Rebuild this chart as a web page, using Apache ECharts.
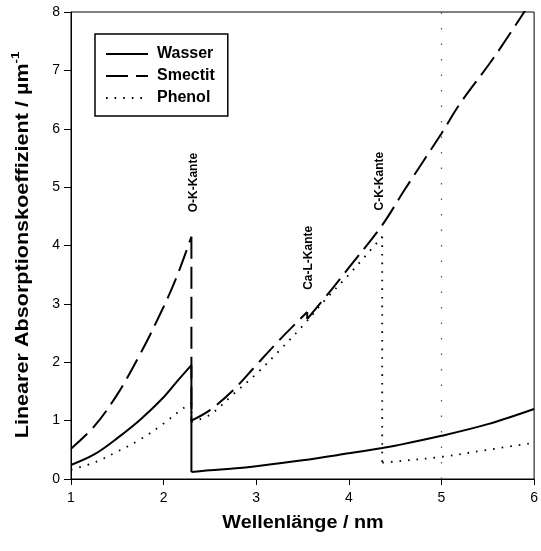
<!DOCTYPE html>
<html>
<head>
<meta charset="utf-8">
<script src="https://cdn.jsdelivr.net/npm/echarts@6/dist/echarts.min.js"></script>
<style>
  html, body { margin: 0; padding: 0; background: #fff; }
  #chart { width: 541px; height: 551px; }
</style>
</head>
<body>
<div id="chart"></div>
<script>
// Wavelength (nm) and linear absorption coefficient (µm^-1); a repeated x marks an absorption edge
const wasserX  = [1.0, 1.25, 1.5, 1.75, 2.0, 2.15, 2.3, 2.3, 2.5, 2.75, 3.0, 3.5, 4.0, 4.36, 4.5, 5.0, 5.5, 6.0];
const wasserY  = [0.24, 0.42, 0.70, 1.02, 1.40, 1.68, 1.95, 0.12, 0.15, 0.18, 0.22, 0.32, 0.44, 0.53, 0.57, 0.74, 0.94, 1.20];

const smectitX = [1.0, 1.25, 1.5, 1.75, 2.0, 2.15, 2.3, 2.3, 2.5, 2.75, 3.0, 3.25, 3.55, 3.55, 3.8, 4.0, 4.36, 4.6, 5.0, 5.2, 5.57, 6.0];
const smectitY = [0.52, 0.90, 1.45, 2.15, 2.95, 3.50, 4.15, 1.00, 1.18, 1.52, 1.95, 2.38, 2.86, 2.74, 3.22, 3.62, 4.35, 4.95, 5.92, 6.43, 7.23, 8.26];

const phenolX  = [1.0, 1.25, 1.5, 1.75, 2.0, 2.2, 2.3, 2.3, 2.5, 2.75, 3.0, 3.25, 3.5, 3.75, 4.0, 4.36, 4.36, 4.5, 5.0, 5.5, 6.0];
const phenolY  = [0.16, 0.28, 0.47, 0.68, 0.95, 1.20, 1.30, 0.98, 1.10, 1.45, 1.80, 2.20, 2.62, 3.08, 3.50, 4.15, 0.28, 0.30, 0.38, 0.50, 0.62];

// Edge annotations: label, x (nm), value where the rotated text begins
const edgeNames = ['O-K-Kante', 'Ca-L-Kante', 'C-K-Kante'];
const edgeX     = [2.325, 3.565, 4.33];
const edgeY     = [4.57, 3.24, 4.60];

const xTicks = [1, 2, 3, 4, 5, 6];
const yTicks = [0, 1, 2, 3, 4, 5, 6, 7, 8];

const FONT = 'Liberation Sans, Arial, sans-serif';

// Split a curve at its edges: smooth pieces between edges, straight vertical drops at them
function buildSeries(name, xs, ys, lineStyle, z, extra) {
  const out = [];
  let piece = [[xs[0], ys[0]]];
  const make = (data, smooth) => ({
    type: 'line', name, symbol: 'none', showSymbol: false, smooth, data,
    lineStyle, itemStyle: { color: '#000' }, z, animation: false
  });
  const flush = () => { if (piece.length > 1) out.push(make(piece, 0.35)); };
  for (let i = 1; i < xs.length; i++) {
    if (xs[i] === xs[i - 1]) {
      flush();
      out.push(make([[xs[i - 1], ys[i - 1]], [xs[i], ys[i]]], false));
      piece = [[xs[i], ys[i]]];
    } else {
      piece.push([xs[i], ys[i]]);
    }
  }
  flush();
  if (extra) Object.assign(out[0], extra);
  return out;
}

const series = [].concat(
  buildSeries('Wasser', wasserX, wasserY, { color: '#000', width: 2, type: 'solid' }, 3),
  buildSeries('Smectit', smectitX, smectitY, { color: '#000', width: 2, type: [22, 8] }, 2),
  buildSeries('Phenol', phenolX, phenolY, { color: '#000', width: 1.8, type: [1.6, 7] }, 1, {
    markLine: {
      silent: true,
      symbol: 'none',
      label: { show: false },
      lineStyle: { color: '#555', width: 1.2, type: [1.5, 14] },
      data: [{ xAxis: 5 }]
    }
  })
);

const chart = echarts.init(document.getElementById('chart'), null, { renderer: 'canvas' });

chart.setOption({
  animation: false,
  backgroundColor: '#fff',
  grid: {
    left: 71, right: 4, top: 12, bottom: 72,
    show: true, borderColor: '#000', borderWidth: 1, backgroundColor: 'transparent'
  },
  xAxis: {
    type: 'value',
    min: xTicks[0], max: xTicks[xTicks.length - 1], interval: 1,
    axisLine: { lineStyle: { color: '#000', width: 1 } },
    axisTick: { show: true, inside: false, length: 6, lineStyle: { color: '#000' } },
    axisLabel: { color: '#000', fontFamily: FONT, fontSize: 14, margin: 12 },
    splitLine: { show: false }
  },
  yAxis: {
    type: 'value',
    min: yTicks[0], max: yTicks[yTicks.length - 1], interval: 1,
    axisLine: { lineStyle: { color: '#000', width: 1 } },
    axisTick: { show: true, inside: false, length: 7, lineStyle: { color: '#000' } },
    axisLabel: { color: '#000', fontFamily: FONT, fontSize: 14, margin: 11 },
    splitLine: { show: false }
  },
  legend: {
    orient: 'vertical',
    left: 95, top: 34,
    padding: [12, 13, 10, 10],
    itemGap: 6,
    itemWidth: 42, itemHeight: 16,
    borderColor: '#000', borderWidth: 1.5,
    backgroundColor: '#fff',
    itemStyle: { opacity: 0, borderWidth: 0 },
    textStyle: { color: '#000', fontFamily: FONT, fontSize: 16, fontWeight: 'bold', padding: [0, 0, 0, 4] },
    data: ['Wasser', 'Smectit', 'Phenol']
  },
  series: series
});

// Axis titles and rotated edge labels, placed from data coordinates
function drawText() {
  const elements = [];
  edgeNames.forEach((name, i) => {
    const p = chart.convertToPixel({ gridIndex: 0 }, [edgeX[i], edgeY[i]]);
    elements.push({
      type: 'text',
      x: p[0], y: p[1],
      rotation: Math.PI / 2,
      style: {
        text: name,
        font: 'bold 12px ' + FONT,
        fill: '#000',
        align: 'left',
        verticalAlign: 'middle'
      },
      z: 10
    });
  });
  elements.push({
    type: 'text',
    x: 303, y: 523,
    scaleX: 1.1,
    style: {
      text: 'Wellenlänge / nm',
      font: 'bold 18px ' + FONT,
      fill: '#000',
      align: 'center',
      verticalAlign: 'middle'
    }
  });
  elements.push({
    type: 'text',
    x: 21, y: 245,
    rotation: Math.PI / 2,
    scaleX: 1.2,
    style: {
      text: '{a|Linearer Absorptionskoeffizient / µm}{b|-1}',
      align: 'center',
      verticalAlign: 'middle',
      rich: {
        a: { font: 'bold 18px ' + FONT, fill: '#000', lineHeight: 22, verticalAlign: 'bottom' },
        b: { font: 'bold 11px ' + FONT, fill: '#000', lineHeight: 22, verticalAlign: 'top' }
      }
    }
  });
  chart.setOption({ graphic: { elements: elements } });
}
drawText();
</script>
</body>
</html>
